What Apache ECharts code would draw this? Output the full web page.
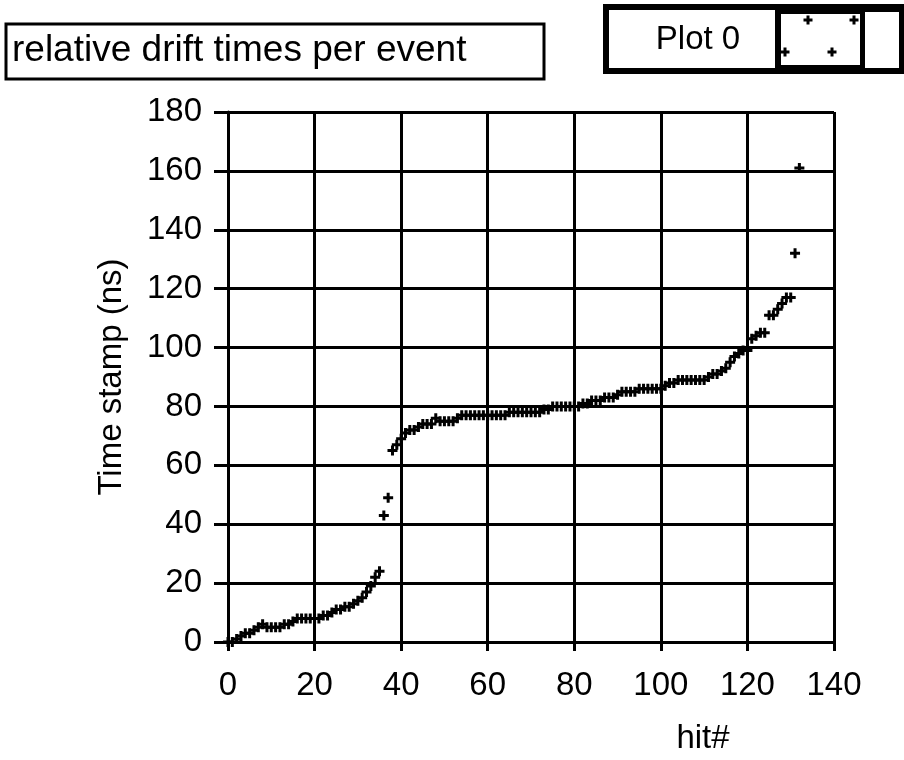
<!DOCTYPE html>
<html>
<head>
<meta charset="utf-8">
<script src="https://cdn.jsdelivr.net/npm/echarts@6/dist/echarts.min.js"></script>
<style>
html,body{margin:0;padding:0;background:#fff;}
#chart{width:904px;height:760px;}
</style>
</head>
<body>
<div id="chart"></div>
<script>
// Time stamps (ns) per hit# (index = hit#)
const timeStamps = [
  0, 0, 1, 2, 3, 3, 4, 5, 6, 5,
  5, 5, 5, 6, 6, 7, 8, 8, 8, 8,
  8, 8, 9, 9, 10, 11, 11, 12, 12, 13,
  14, 15, 17, 19, 22, 24, 43, 49, 65, 67,
  69, 71, 72, 72, 73, 74, 74, 74, 76, 75,
  75, 75, 75, 76, 77, 77, 77, 77, 77, 77,
  77, 77, 77, 77, 77, 78, 78, 78, 78, 78,
  78, 78, 78, 79, 79, 80, 80, 80, 80, 80,
  80, 80, 81, 81, 82, 82, 82, 83, 83, 83,
  84, 85, 85, 85, 85, 86, 86, 86, 86, 86,
  86, 87, 88, 88, 89, 89, 89, 89, 89, 89,
  89, 90, 91, 91, 92, 93, 95, 97, 98, 99,
  99, 103, 104, 105, 105, 111, 111, 113, 115, 117,
  117, 132, 161
];
const xTicks = [0, 20, 40, 60, 80, 100, 120, 140];
const yTicks = [0, 20, 40, 60, 80, 100, 120, 140, 160, 180];
const titleText = 'relative drift times per event';
const legendText = 'Plot 0';
const xName = 'hit#';
const yName = 'Time stamp (ns)';

const FONT = '"Liberation Sans", Arial, sans-serif';
const plus = 'path://M3.5,0H6.5V3.5H10V6.5H6.5V10H3.5V6.5H0V3.5H3.5Z';

const chart = echarts.init(document.getElementById('chart'), null, {renderer: 'canvas'});
const seriesData = timeStamps.map((v, i) => [i, v]);

const legendPlus = (cx, cy) => {
  const p = [[-1.5,-4.5],[1.5,-4.5],[1.5,-1.5],[4.5,-1.5],[4.5,1.5],[1.5,1.5],[1.5,4.5],[-1.5,4.5],[-1.5,1.5],[-4.5,1.5],[-4.5,-1.5],[-1.5,-1.5]];
  return {type: 'polygon', shape: {points: p.map(q => [q[0] + cx, q[1] + cy])}, style: {fill: '#000'}};
};

chart.setOption({
  animation: false,
  backgroundColor: '#fff',
  grid: {left: 228, right: 70, top: 112, bottom: 114, containLabel: false},
  xAxis: {
    type: 'value', min: xTicks[0], max: xTicks[xTicks.length - 1], interval: 20,
    name: xName, nameLocation: 'middle', nameGap: 80,
    nameTextStyle: {color: '#000', fontSize: 33, fontFamily: FONT, padding: [0, 0, 0, 344]},
    axisLine: {show: true, onZero: false, lineStyle: {color: '#000', width: 3}},
    axisTick: {show: true, length: 9, lineStyle: {color: '#000', width: 3}},
    axisLabel: {color: '#000', fontSize: 33, fontFamily: FONT, margin: 27},
    splitLine: {show: true, lineStyle: {color: '#000', width: 3}}
  },
  yAxis: {
    type: 'value', min: yTicks[0], max: yTicks[yTicks.length - 1], interval: 20,
    name: yName, nameLocation: 'middle', nameGap: 100, nameRotate: 90,
    nameTextStyle: {color: '#000', fontSize: 33, fontFamily: FONT},
    axisLine: {show: true, onZero: false, lineStyle: {color: '#000', width: 3}},
    axisTick: {show: true, length: 14, lineStyle: {color: '#000', width: 3}},
    axisLabel: {color: '#000', fontSize: 33, fontFamily: FONT, margin: 26},
    splitLine: {show: true, lineStyle: {color: '#000', width: 3}}
  },
  series: [{
    type: 'scatter',
    name: legendText,
    data: seriesData,
    symbol: plus,
    symbolSize: 10,
    itemStyle: {color: '#000', opacity: 1},
    z: 5
  }],
  graphic: [
    {type: 'rect', shape: {x: 6, y: 24, width: 538, height: 55},
     style: {fill: '#fff', stroke: '#000', lineWidth: 3}},
    {type: 'text', x: 12, y: 51,
     style: {text: titleText, fill: '#000', font: '37px ' + FONT, verticalAlign: 'middle'}},
    {type: 'rect', shape: {x: 603, y: 4, width: 301, height: 70}, style: {fill: '#000'}},
    {type: 'rect', shape: {x: 609, y: 10, width: 166, height: 58}, style: {fill: '#fff'}},
    {type: 'rect', shape: {x: 780, y: 13, width: 81, height: 53}, style: {fill: '#fff', stroke: '#000', lineWidth: 2}},
    {type: 'rect', shape: {x: 865, y: 12, width: 34, height: 56}, style: {fill: '#fff'}},
    {type: 'text', x: 698, y: 40,
     style: {text: legendText, fill: '#000', font: '33px ' + FONT, align: 'center', verticalAlign: 'middle'}},
    legendPlus(808, 20), legendPlus(854, 20), legendPlus(785, 52), legendPlus(832, 52)
  ]
});
</script>
</body>
</html>
